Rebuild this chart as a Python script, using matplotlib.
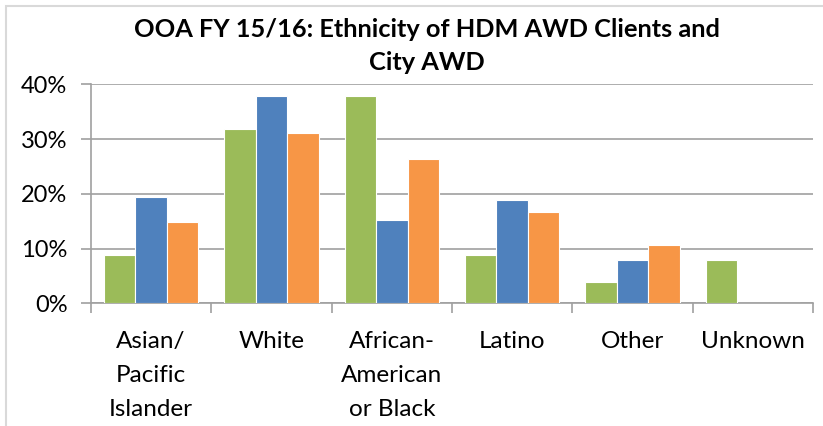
import matplotlib
matplotlib.use("Agg")
import matplotlib.pyplot as plt
from matplotlib.patches import Rectangle
import numpy as np

categories = ["Asian/\nPacific\nIslander", "White", "African-\nAmerican\nor Black", "Latino", "Other", "Unknown"]
series_green = [8.8, 31.8, 37.9, 8.8, 3.9, 7.9]
series_blue = [19.4, 37.9, 15.3, 18.9, 7.9, 0.0]
series_orange = [14.9, 31.1, 26.3, 16.6, 10.6, 0.0]
yticks = [0, 10, 20, 30, 40]
ytick_labels = ["0%", "10%", "20%", "30%", "40%"]
title = "OOA FY 15/16: Ethnicity of HDM AWD Clients and\nCity AWD"

colors = ["#9BBB59", "#4F81BD", "#F79646"]
FONT = "Lato"

W, H = 823, 426
fig = plt.figure(figsize=(W / 100, H / 100), dpi=100)
fig.patch.set_facecolor("white")

# outer chart frame
fig.patches.append(Rectangle((6 / W, -0.1), 1.2, 1 - 6 / H + 0.1, transform=fig.transFigure,
                             fill=False, edgecolor="#D9D9D9", linewidth=1.5))

ax = fig.add_axes([91 / W, 1 - 303.3 / H, 722 / W, 219 / H])
x = np.arange(len(categories))
bw = 0.262
for k, vals in enumerate([series_green, series_blue, series_orange]):
    ax.bar(x + (k - 1) * bw, vals, width=bw, color=colors[k], edgecolor="white", linewidth=0.8, zorder=3)

ax.set_xlim(-0.5, len(categories) - 0.5)
ax.set_ylim(0, 40)
ax.set_yticks(yticks)
ax.set_yticklabels(ytick_labels, fontsize=17, family=FONT, color="#000000")
ax.yaxis.grid(True, color="#A0A0A0", linewidth=1.2, zorder=0)
ax.set_axisbelow(True)
ax.tick_params(axis="y", length=7, color="#A0A0A0", width=1.2, pad=10)

ax.set_xticks(x)
ax.set_xticklabels(categories, fontsize=17.5, family=FONT, linespacing=1.75, va="top")
ax.tick_params(axis="x", which="major", length=0, pad=20)
ax.set_xticks(np.arange(-0.5, len(categories), 1.0), minor=True)
ax.tick_params(axis="x", which="minor", length=7, color="#A0A0A0", width=1.2)

for s in ["top", "right"]:
    ax.spines[s].set_visible(False)
for s in ["left", "bottom"]:
    ax.spines[s].set_color("#A0A0A0")
    ax.spines[s].set_linewidth(1.2)

fig.text(427 / W, 1 - 46 / H, title, ha="center", va="center", fontsize=18.3, fontweight="bold",
         family=FONT, linespacing=1.55)

fig.savefig("out.png", dpi=100, facecolor="white")
